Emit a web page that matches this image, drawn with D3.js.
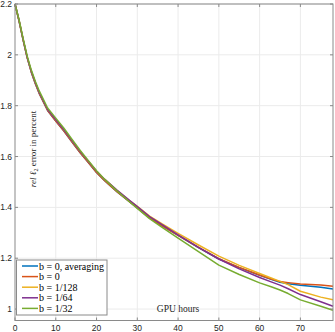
<!DOCTYPE html>
<html>
<head>
<meta charset="utf-8">
<script src="https://cdn.jsdelivr.net/npm/d3@7"></script>
<style>
  html, body { margin: 0; padding: 0; background: #fff; }
  svg { display: block; }
</style>
</head>
<body>
<svg id="chart" width="335" height="332"></svg>
<script>
// GPU hours at which each series is sampled
const hours = [0, 1, 2, 3, 4, 5, 6, 8, 10, 12, 14, 16, 18, 20, 22, 25, 28, 30, 33, 36, 40, 45, 50, 55, 60, 63, 65, 67, 70, 75, 78];

// rel l2 error in percent
const avgB0   = [2.200, 2.133, 2.058, 1.988, 1.932, 1.886, 1.846, 1.781, 1.740, 1.700, 1.657, 1.615, 1.576, 1.537, 1.505, 1.462, 1.423, 1.398, 1.359, 1.328, 1.290, 1.242, 1.197, 1.163, 1.133, 1.116, 1.105, 1.100, 1.094, 1.086, 1.079];
const b0      = [2.200, 2.133, 2.058, 1.988, 1.932, 1.886, 1.846, 1.781, 1.740, 1.700, 1.657, 1.615, 1.576, 1.537, 1.505, 1.462, 1.423, 1.398, 1.359, 1.328, 1.290, 1.243, 1.198, 1.164, 1.134, 1.117, 1.108, 1.104, 1.099, 1.095, 1.090];
const b1_128  = [2.200, 2.135, 2.060, 1.990, 1.935, 1.890, 1.850, 1.785, 1.745, 1.705, 1.662, 1.620, 1.581, 1.542, 1.510, 1.467, 1.428, 1.404, 1.366, 1.336, 1.298, 1.252, 1.208, 1.172, 1.140, 1.121, 1.109, 1.096, 1.070, 1.047, 1.037];
const b1_64   = [2.200, 2.135, 2.060, 1.990, 1.935, 1.890, 1.850, 1.785, 1.745, 1.705, 1.662, 1.620, 1.581, 1.542, 1.510, 1.468, 1.429, 1.403, 1.364, 1.333, 1.292, 1.243, 1.197, 1.158, 1.124, 1.106, 1.094, 1.080, 1.057, 1.029, 1.011];
const b1_32   = [2.200, 2.137, 2.064, 1.995, 1.940, 1.895, 1.856, 1.791, 1.751, 1.711, 1.667, 1.624, 1.584, 1.544, 1.510, 1.465, 1.423, 1.396, 1.356, 1.322, 1.279, 1.226, 1.173, 1.136, 1.103, 1.087, 1.075, 1.061, 1.036, 1.011, 0.995];

const seriesNames = ["b = 0, averaging", "b = 0", "b = 1/128", "b = 1/64", "b = 1/32"];
const seriesValues = [avgB0, b0, b1_128, b1_64, b1_32];
const seriesColors = ["#0072BD", "#D95319", "#EDB120", "#7E2F8E", "#77AC30"];

const xTicks = [0, 10, 20, 30, 40, 50, 60, 70];
const yTicks = [1, 1.2, 1.4, 1.6, 1.8, 2, 2.2];

const svg = d3.select("#chart");
const pl = 15, pr = 333, pt = 4, pb = 320.5;

const x = d3.scaleLinear().domain([0, 78]).range([pl, pr]);
const y = d3.scaleLinear().domain([0.955, 2.2]).range([pb, pt]);

// grid
svg.append("g").selectAll("line").data(xTicks.slice(1)).join("line")
  .attr("x1", d => x(d)).attr("x2", d => x(d))
  .attr("y1", pt).attr("y2", pb)
  .attr("stroke", "#ebebeb").attr("stroke-width", 1);
svg.append("g").selectAll("line").data(yTicks).join("line")
  .attr("x1", pl).attr("x2", pr)
  .attr("y1", d => y(d)).attr("y2", d => y(d))
  .attr("stroke", "#ebebeb").attr("stroke-width", 1);

// lines
const line = d3.line().x((d, i) => x(hours[i])).y(d => y(d));
seriesValues.forEach((vals, k) => {
  svg.append("path")
    .datum(vals)
    .attr("fill", "none")
    .attr("stroke", seriesColors[k])
    .attr("stroke-width", 1.5)
    .attr("stroke-linejoin", "round")
    .attr("d", line);
});

// box and inward ticks (matlab style)
const axisCol = "#8a8a8a";
svg.append("rect")
  .attr("x", pl).attr("y", pt)
  .attr("width", pr - pl).attr("height", pb - pt)
  .attr("fill", "none").attr("stroke", axisCol).attr("stroke-width", 1);

const tk = 3;
const tg = svg.append("g").attr("stroke", axisCol).attr("stroke-width", 1);
xTicks.forEach(t => {
  tg.append("line").attr("x1", x(t)).attr("x2", x(t)).attr("y1", pb).attr("y2", pb - tk);
  tg.append("line").attr("x1", x(t)).attr("x2", x(t)).attr("y1", pt).attr("y2", pt + tk);
});
yTicks.forEach(t => {
  tg.append("line").attr("x1", pl).attr("x2", pl + tk).attr("y1", y(t)).attr("y2", y(t));
  tg.append("line").attr("x1", pr).attr("x2", pr - tk).attr("y1", y(t)).attr("y2", y(t));
});

// tick labels
const fmt = v => String(+v.toFixed(1));
svg.append("g").selectAll("text").data(xTicks).join("text")
  .attr("x", d => x(d)).attr("y", 331)
  .attr("text-anchor", "middle")
  .attr("font-family", "Liberation Sans, Arial, sans-serif")
  .attr("font-size", 8.5).attr("fill", "#262626")
  .text(fmt);
svg.append("g").selectAll("text").data(yTicks).join("text")
  .attr("x", pl - 3).attr("y", d => y(d)).attr("dy", "0.35em")
  .attr("text-anchor", "end")
  .attr("font-family", "Liberation Sans, Arial, sans-serif")
  .attr("font-size", 8.5).attr("fill", "#262626")
  .text(fmt);

// axis labels (inside the plot area)
const serif = "Liberation Serif, Times New Roman, serif";
svg.append("text")
  .attr("x", x(40)).attr("y", 312)
  .attr("text-anchor", "middle")
  .attr("font-family", serif).attr("font-size", 9.5).attr("fill", "#262626")
  .text("GPU hours");

const yl = svg.append("text")
  .attr("transform", "translate(36,149) rotate(-90)")
  .attr("text-anchor", "middle")
  .attr("font-family", serif).attr("font-size", 9).attr("fill", "#262626");
yl.append("tspan").attr("font-style", "italic").text("rel ");
yl.append("tspan").attr("font-style", "italic").text("ℓ");
yl.append("tspan").attr("font-size", 6).attr("dy", 2).text("2");
yl.append("tspan").attr("dy", -2).text(" error in percent");

// legend
const lg = svg.append("g");
lg.append("rect")
  .attr("x", 16.5).attr("y", 260).attr("width", 90.5).attr("height", 55)
  .attr("fill", "#fff").attr("stroke", "#8a8a8a").attr("stroke-width", 1);
seriesNames.forEach((name, k) => {
  const yy = 266 + k * 10.6;
  lg.append("line")
    .attr("x1", 22).attr("x2", 38).attr("y1", yy).attr("y2", yy)
    .attr("stroke", seriesColors[k]).attr("stroke-width", 1.5);
  lg.append("text")
    .attr("x", 39).attr("y", yy).attr("dy", "0.35em")
    .attr("font-family", serif).attr("font-size", 10).attr("fill", "#000")
    .text(name);
});
</script>
</body>
</html>
